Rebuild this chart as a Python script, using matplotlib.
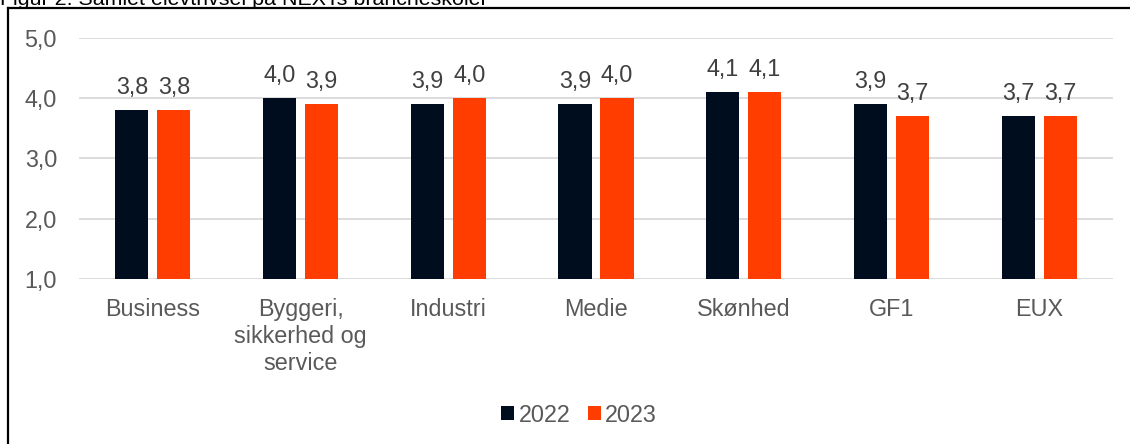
import numpy as np
import matplotlib.pyplot as plt
from matplotlib.lines import Line2D

plt.rcParams["font.family"] = ["Liberation Sans", "DejaVu Sans"]

# Data
categories = ["Business", "Byggeri,\nsikkerhed og\nservice", "Industri", "Medie", "Skønhed", "GF1", "EUX"]
values_2022 = [3.8, 4.0, 3.9, 3.9, 4.1, 3.9, 3.7]
values_2023 = [3.8, 3.9, 4.0, 4.0, 4.1, 3.7, 3.7]
labels_2022 = ["3,8", "4,0", "3,9", "3,9", "4,1", "3,9", "3,7"]
labels_2023 = ["3,8", "3,9", "4,0", "4,0", "4,1", "3,7", "3,7"]
yticks = [1.0, 2.0, 3.0, 4.0, 5.0]
ytick_labels = ["1,0", "2,0", "3,0", "4,0", "5,0"]

dark = "#000D1F"
orange = "#FF3D00"
fs = 16.8

fig = plt.figure(figsize=(11.3, 4.44), dpi=100)
ax = fig.add_axes([79 / 1130, 1 - 279 / 444, (1113 - 79) / 1130, (279 - 38) / 444])

x = np.arange(len(categories))
w = 0.224
off = 0.142
b1 = ax.bar(x - off, np.array(values_2022) - 1, w, bottom=1, color=dark, label="2022", zorder=3)
b2 = ax.bar(x + off, np.array(values_2023) - 1, w, bottom=1, color=orange, label="2023", zorder=3)

# data labels above the bars
for xs, vals, labs in [(x - off, values_2022, labels_2022), (x + off, values_2023, labels_2023)]:
    for xi, v, lab in zip(xs, vals, labs):
        ax.annotate(lab, (xi, v), xytext=(0, 12), textcoords="offset points",
                    ha="center", va="baseline", fontsize=fs, color="#404040")

ax.set_xlim(-0.5, len(categories) - 0.5)
ax.set_ylim(1, 5)
ax.set_yticks(yticks)
ax.set_yticklabels(ytick_labels)
ax.set_xticks(x)
ax.set_xticklabels(categories, va="top", linespacing=1.2)
ax.tick_params(axis="both", length=0, labelsize=fs, labelcolor="#595959")
ax.tick_params(axis="y", pad=15.8)
ax.tick_params(axis="x", pad=14)
ax.yaxis.grid(True, color="#D9D9D9", linewidth=1.3, zorder=0)
for s in ax.spines.values():
    s.set_visible(False)

fig.legend(handles=[b1, b2], loc="center", bbox_to_anchor=(579 / 1130, 1 - 415 / 444),
           ncol=2, frameon=False, fontsize=fs, labelcolor="#595959",
           handlelength=0.55, handleheight=0.55, handletextpad=0.2, columnspacing=0.75)

# frame and the caption that is cut off at the top
fig.add_artist(Line2D([7.5 / 1130, 1], [1 - 8.5 / 444, 1 - 8.5 / 444], color="black", lw=1.6))
fig.add_artist(Line2D([7.5 / 1130, 7.5 / 1130], [0, 1 - 8.5 / 444], color="black", lw=1.6))
fig.text(0, 1 - 5 / 444, "Figur 2: Samlet elevtrivsel på NEXTs brancheskoler",
         fontsize=15.4, va="baseline", ha="left", color="black")

fig.savefig("out.png", dpi=100)
